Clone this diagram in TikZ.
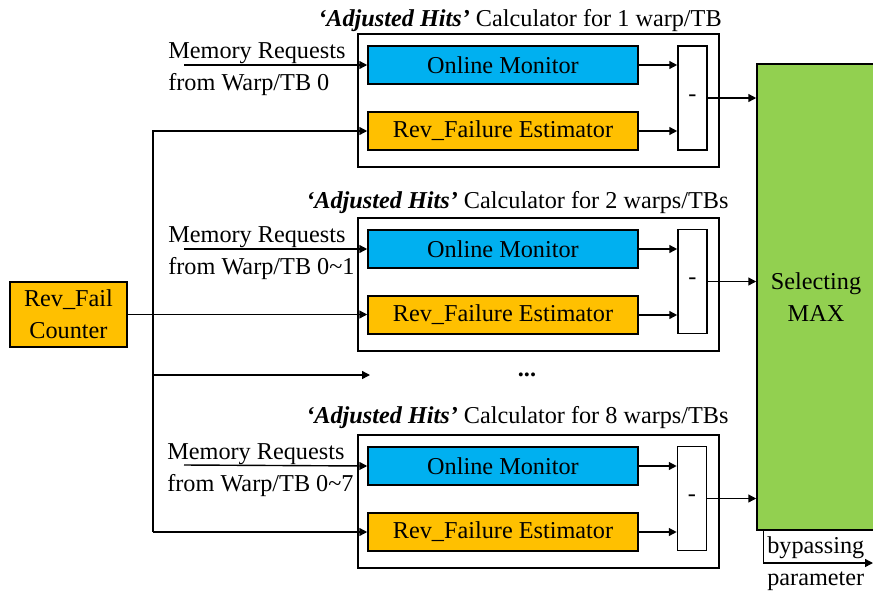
\documentclass[tikz,border=0pt]{standalone}
\usepackage{fontspec}
\setmainfont{Liberation Serif}
\usepackage{xcolor}
\definecolor{monitorBlue}{HTML}{00B0F0}
\definecolor{estimatorOrange}{HTML}{FFC000}
\definecolor{selectGreen}{HTML}{92D050}
\usetikzlibrary{arrows.meta, positioning}

\begin{document}
\begin{tikzpicture}[x=0.02cm, y=-0.02cm,
                every node/.style={font=\fontsize{13.8}{18.2}\selectfont},
                monitor/.style={rectangle, draw, line width=0.9pt, fill=monitorBlue, minimum width=5.4cm, minimum height=0.76cm, inner sep=0pt},
                estimator/.style={rectangle, draw, line width=0.9pt, fill=estimatorOrange, minimum width=5.4cm, minimum height=0.76cm, inner sep=0pt},
                minusbox/.style={rectangle, draw, line width=0.9pt, fill=white, minimum width=0.58cm, minimum height=2.08cm, inner sep=0pt},
                calcframe/.style={rectangle, draw, line width=0.9pt, minimum width=7.22cm, minimum height=2.66cm, inner sep=0pt},
                select/.style={rectangle, draw, line width=0.9pt, fill=selectGreen, minimum width=2.36cm, minimum height=9.32cm, align=center},
                reqtext/.style={align=left, inner sep=0pt, anchor=west},
                heading/.style={anchor=base west, inner sep=0pt},
                flow/.style={draw, line width=0.8pt, -{Triangle[length=4.5pt, width=4.5pt]}},
                wire/.style={draw, line width=0.8pt}
            ]

            \useasboundingbox (0,0) rectangle (873,596);

            \node (counter) [estimator, minimum width=2.34cm, minimum height=1.3cm, align=center] at (68.5,314.5) {Rev\_Fail\\Counter};

            \node (frame1) [calcframe] at (538.5,100.5) {};
            \node (mon1) [monitor] at (503,65) {Online Monitor};
            \node (est1) [estimator] at (503,131) {Rev\_Failure Estimator};
            \node (sub1) [minusbox] at (692.5,98) {-};
            \node (head1) [heading] at (318,26) {{\bfseries\itshape ‘Adjusted Hits’} Calculator for 1 warp/TB};
            \node (req1) [reqtext] at (168,69) {Memory Requests\\from Warp/TB 0};
            \coordinate (in1) at (184,65);

            \node (frame2) [calcframe] at (538.5,284.5) {};
            \node (mon2) [monitor] at (503,249) {Online Monitor};
            \node (est2) [estimator] at (503,315) {Rev\_Failure Estimator};
            \node (sub2) [minusbox] at (692.5,281.5) {-};
            \node (head2) [heading] at (306,208) {{\bfseries\itshape ‘Adjusted Hits’} Calculator for 2 warps/TBs};
            \node (req2) [reqtext] at (168,253) {Memory Requests\\from Warp/TB 0\textasciitilde 1};
            \coordinate (in2) at (184,249);

            \node (dots) at (527,375) {\textbf{...}};
            \coordinate (gap) at (370,375);

            \node (frame3) [calcframe] at (538.5,501.5) {};
            \node (mon3) [monitor] at (503,466) {Online Monitor};
            \node (est3) [estimator] at (503,532) {Rev\_Failure Estimator};
            \node (sub3) [minusbox] at (692,498.5) {-};
            \node (head3) [heading] at (306,423) {{\bfseries\itshape ‘Adjusted Hits’} Calculator for 8 warps/TBs};
            \node (req3) [reqtext] at (167,470) {Memory Requests\\from Warp/TB 0\textasciitilde 7};
            \coordinate (in3) at (184,465);

            \node (sel) [select] at (816,297) {Selecting\\MAX};
            \coordinate (out) at (873,563);
            \node (byp) [reqtext] at (767,564) {bypassing\\parameter};

            \coordinate (bus) at (153,375);

            \draw [flow] (counter.east) -- (counter.east -| est2.west);
            \draw [flow] (bus |- est3.west) |- (est1.west);
            \draw [flow] (bus |- est3.west) -- (est3.west);
            \draw [flow] (bus) -- (gap);

            \draw [flow] (in1) -- (mon1.west);
            \draw [flow] (in2) -- (mon2.west);
            \draw [flow] (in3) -- (mon3.west);

            \draw [flow] (mon1.east) -- (mon1.east -| sub1.west);
            \draw [flow] (est1.east) -- (est1.east -| sub1.west);
            \draw [flow] (mon2.east) -- (mon2.east -| sub2.west);
            \draw [flow] (est2.east) -- (est2.east -| sub2.west);
            \draw [flow] (mon3.east) -- (mon3.east -| sub3.west);
            \draw [flow] (est3.east) -- (est3.east -| sub3.west);

            \draw [flow] (sub1.east) -- (sub1.east -| sel.west);
            \draw [flow] (sub2.east) -- (sub2.east -| sel.west);
            \draw [flow] (sub3.east) -- (sub3.east -| sel.west);

            \draw [flow] ([xshift=0.14cm]sel.south west) |- (out);
        \end{tikzpicture}
\end{document}
